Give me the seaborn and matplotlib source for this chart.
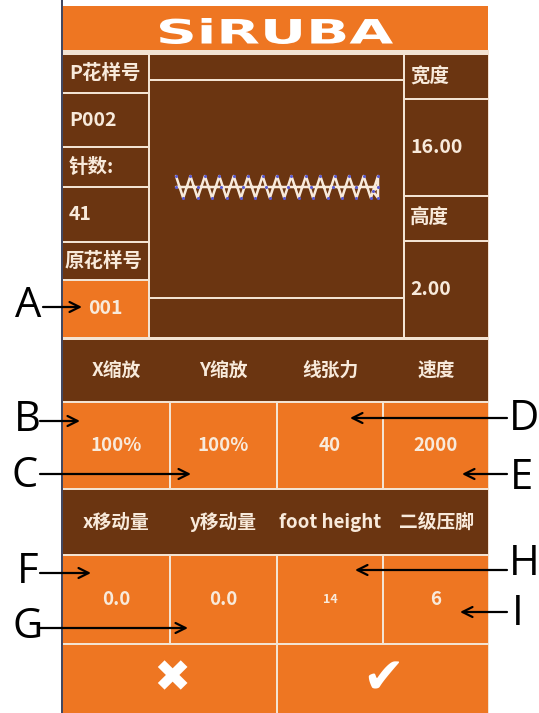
import seaborn as sns
import matplotlib.pyplot as plt
from matplotlib.patches import Rectangle, PathPatch
from matplotlib.textpath import TextPath
from matplotlib.font_manager import FontProperties
from matplotlib.transforms import Affine2D

# ---- data ----
brand = "SiRUBA"
left_labels = ["P花样号", "P002", "针数:", "41", "原花样号", "001"]
right_labels = ["宽度", "16.00", "高度", "2.00"]
row1_names = ["X缩放", "Y缩放", "线张力", "速度"]
row1_values = ["100%", "100%", "40", "2000"]
row2_names = ["x移动量", "y移动量", "foot height", "二级压脚"]
row2_values = ["0.0", "0.0", "14", "6"]
callout_letters = ["A", "B", "C", "D", "E", "F", "G", "H", "I"]

# zigzag pattern, 41 stitches, 16 mm wide, 2 mm high
stitch_x = [0.0, 0.57, 1.14, 1.71, 2.29, 2.86, 3.43, 4.0, 4.57, 5.14, 5.71, 6.29,
            6.86, 7.43, 8.0, 8.57, 9.14, 9.71, 10.29, 10.86, 11.43, 12.0, 12.57,
            13.14, 13.71, 14.29, 14.86, 15.43, 16.0, 16.0, 15.6, 16.0, 14.22,
            12.44, 10.67, 8.89, 7.11, 5.33, 3.56, 1.78, 0.0]
stitch_y = [1, -1, 1, -1, 1, -1, 1, -1, 1, -1, 1, -1, 1, -1, 1, -1, 1, -1, 1, -1,
            1, -1, 1, -1, 1, -1, 1, -1, 1, -1, -0.4, 0, 0, 0, 0, 0, 0, 0, 0, 0, 0]

# ---- layout (pixels) ----
ORANGE = "#EE7622"
BROWN = "#6B3511"
CREAM = "#F8EADB"
GAP = "#F3E3D2"
PX0, PX1 = 63, 488
left_rows = [(55, 92), (94, 146), (148, 186), (188, 241), (243, 279), (281, 337)]
right_rows = [(55, 98), (100, 195), (197, 240), (242, 337)]
cols = [(63, 169), (171, 276), (278, 382), (384, 488)]
callout_pos = [  # letter x, letter y, arrow from x, arrow to x, arrow y
    (28, 306, 43, 82, 307),
    (27, 420, 40, 80, 421),
    (25, 476, 40, 191, 474),
    (524, 419, 507, 350, 418),
    (521, 478, 507, 462, 474),
    (28, 572, 40, 91, 573),
    (28, 627, 40, 188, 628),
    (524, 564, 507, 355, 570),
    (518, 614, 507, 460, 612),
]

sns.set_theme(style="white")
plt.rcParams["font.family"] = ["Noto Sans CJK SC", "DejaVu Sans"]

fig = plt.figure(figsize=(5.39, 7.13), dpi=100)
fig.patch.set_facecolor("white")
ax = fig.add_axes([0, 0, 1, 1])
ax.set_xlim(0, 539)
ax.set_ylim(713, 0)
ax.axis("off")


def cell(x0, x1, y0, y1, color):
    ax.add_patch(Rectangle((x0, y0), x1 - x0, y1 - y0, facecolor=color,
                           edgecolor="none"))


def label(x, y, s, ha="left", size=14, color=CREAM):
    ax.text(x, y, s, ha=ha, va="center", fontsize=size, color=color,
            fontweight="bold")


# panel backdrop and left border
cell(PX0, PX1 + 1, 50, 713, GAP)
ax.plot([62, 62], [0, 713], color="#2E3550", lw=1.3)

# header with logo
cell(PX0, PX1, 6, 50, ORANGE)
fp = FontProperties(family="DejaVu Sans", weight="bold")
tp = TextPath((0, 0), brand, size=40, prop=fp)
bb = tp.get_extents()
tr = (Affine2D().translate(-bb.x0, -bb.y0)
      .scale(233 / bb.width, -26 / bb.height).translate(160, 44))
ax.add_patch(PathPatch(tr.transform_path(tp), facecolor="white", edgecolor="none"))

# left column
for i, ((y0, y1), s) in enumerate(zip(left_rows, left_labels)):
    last = i == len(left_rows) - 1
    cell(PX0, 148, y0, y1, ORANGE if last else BROWN)
    if last:
        label(105, (y0 + y1) / 2, s, ha="center")
    else:
        label(65 if len(s) == 4 and not s[0].isascii() else 69, (y0 + y1) / 2, s)

# middle preview area
cell(150, 403, 55, 79, BROWN)
cell(150, 403, 81, 297, BROWN)
cell(150, 403, 299, 337, BROWN)

# right column
for (y0, y1), s in zip(right_rows, right_labels):
    cell(405, PX1, y0, y1, BROWN)
    label(410, (y0 + y1) / 2, s)

# parameter rows
for (hy0, hy1, vy0, vy1, names, values) in [(340, 401, 403, 488, row1_names, row1_values),
                                            (490, 554, 556, 643, row2_names, row2_values)]:
    cell(PX0, PX1, hy0, hy1, BROWN)
    for (x0, x1), n, v in zip(cols, names, values):
        cx = (x0 + x1) / 2
        label(cx, (hy0 + hy1) / 2, n, ha="center", size=13.5)
        cell(x0, x1, vy0, vy1, ORANGE)
        label(cx, (vy0 + vy1) / 2, v, ha="center", size=9 if v == "14" else 13.5)

# buttons
cell(PX0, 276, 645, 713, ORANGE)
cell(278, PX1, 645, 713, ORANGE)
ax.text(172, 679, "\u2716", ha="center", va="center", fontsize=32, color="white",
        family="DejaVu Sans")
ax.text(383, 679, "\u2714", ha="center", va="center", fontsize=36, color="white",
        family="DejaVu Sans")

# stitch preview
az = fig.add_axes([176 / 539, 1 - 198 / 713, (378 - 176) / 539, (198 - 176) / 713])
az.patch.set_alpha(0)
sns.lineplot(x=stitch_x, y=stitch_y, sort=False, estimator=None, color=CREAM,
             lw=1.8, ax=az)
sns.scatterplot(x=stitch_x, y=stitch_y, color="#5B5BD0", s=5, linewidth=0, ax=az,
                zorder=3)
az.set_xlim(0, 16)
az.set_ylim(-1, 1)
az.axis("off")
for a in az.get_children():
    if hasattr(a, "set_clip_on"):
        a.set_clip_on(False)

# callouts
for s, (lx, ly, ax0, ax1, ay) in zip(callout_letters, callout_pos):
    ax.text(lx, ly, s, ha="center", va="center", fontsize=30, color="black",
            family="Open Sans")
    ax.annotate("", xy=(ax1, ay), xytext=(ax0, ay),
                arrowprops=dict(arrowstyle="->,head_length=0.6,head_width=0.3",
                                color="black", lw=1.6, shrinkA=0, shrinkB=0))

fig.savefig("out.png", dpi=100, facecolor="white")
